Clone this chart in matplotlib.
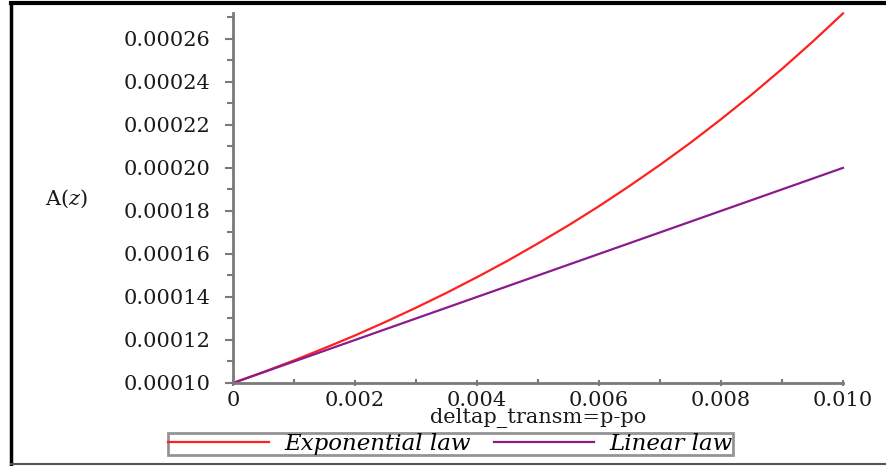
import matplotlib
matplotlib.use('Agg')
from matplotlib import pyplot as plt
from matplotlib.lines import Line2D
from matplotlib.ticker import MultipleLocator

# values
x = [0.0, 0.0005, 0.001, 0.0015, 0.002, 0.0025, 0.003, 0.0035, 0.004, 0.0045,
     0.005, 0.0055, 0.006, 0.0065, 0.007, 0.0075, 0.008, 0.0085, 0.009, 0.0095, 0.010]
exponential = [1.000, 1.051, 1.105, 1.162, 1.221, 1.284, 1.350, 1.419, 1.492, 1.568,
               1.649, 1.733, 1.822, 1.916, 2.014, 2.117, 2.226, 2.340, 2.460, 2.586, 2.718]
linear = [1.00, 1.05, 1.10, 1.15, 1.20, 1.25, 1.30, 1.35, 1.40, 1.45,
          1.50, 1.55, 1.60, 1.65, 1.70, 1.75, 1.80, 1.85, 1.90, 1.95, 2.00]
exponential = [v * 1e-4 for v in exponential]
linear = [v * 1e-4 for v in linear]

yticks = [0.00010, 0.00012, 0.00014, 0.00016, 0.00018, 0.00020, 0.00022, 0.00024, 0.00026]
xticks = [0.0, 0.002, 0.004, 0.006, 0.008, 0.010]
xticklabels = ['0', '0.002', '0.004', '0.006', '0.008', '0.010']

plt.rcParams['font.family'] = 'DejaVu Serif'
plt.rcParams['mathtext.fontset'] = 'dejavuserif'

W, H = 886, 466
fig = plt.figure(figsize=(W / 100, H / 100), dpi=100)
ax = fig.add_axes([233 / W, 83 / H, (843 - 233) / W, (453 - 83) / H])

ax.plot(x, exponential, color='#ff2020', lw=1.6, label='Exponential law', clip_on=False)
ax.plot(x, linear, color='#8a1c8c', lw=1.6, label='Linear law', clip_on=False)

ax.set_xlim(0, 0.010)
ax.set_ylim(0.00010, 0.000272)

axis_col = '#7a7a7a'
txt_col = '#1a1a1a'
for s in ['top', 'right']:
    ax.spines[s].set_visible(False)
for s in ['left', 'bottom']:
    ax.spines[s].set_color(axis_col)
    ax.spines[s].set_linewidth(2.0)

ax.set_yticks(yticks)
ax.set_yticklabels(['%.5f' % v for v in yticks])
ax.yaxis.set_minor_locator(MultipleLocator(0.00001))
ax.set_xticks(xticks)
ax.set_xticklabels(xticklabels)
ax.xaxis.set_minor_locator(MultipleLocator(0.001))

ax.tick_params(axis='y', which='major', direction='out', length=6, width=1.5,
               color=axis_col, labelsize=15, pad=10, labelcolor=txt_col)
ax.tick_params(axis='y', which='minor', direction='out', length=4, width=1.5, color=axis_col)
ax.tick_params(axis='x', which='major', direction='inout', length=5, width=1.5,
               color=axis_col, labelsize=15, pad=3, labelcolor=txt_col)
ax.tick_params(axis='x', which='minor', direction='in', length=3, width=1.5, color=axis_col)

ax.set_xlabel('deltap_transm=p-po', fontsize=15, color=txt_col, va='top')
ax.xaxis.set_label_coords(0.5, -(408 - 383) / 370)
fig.text(66 / W, 1 - 199 / H, r'A($z$)', fontsize=15, ha='center', va='center', color=txt_col)

leg = fig.legend(loc='center', bbox_to_anchor=(450.5 / W, 1 - 444 / H), ncol=2,
                 prop={'style': 'italic', 'size': 16.5}, frameon=True, fancybox=False,
                 handlelength=4.4, columnspacing=1.0, handletextpad=0.66,
                 borderpad=0.0, borderaxespad=0)
leg.get_frame().set_edgecolor('#7a7a7a')
leg.get_frame().set_linewidth(2.0)

# outer frame
fig.add_artist(Line2D([11 / W, 11 / W], [1 - 3 / H, 1 - 464 / H], color='black', lw=2.5,
                      transform=fig.transFigure))
fig.add_artist(Line2D([11 / W, 1], [1 - 3 / H, 1 - 3 / H], color='black', lw=3,
                      transform=fig.transFigure))
fig.add_artist(Line2D([11 / W, 1], [1 - 464 / H, 1 - 464 / H], color='#555555', lw=1.5,
                      transform=fig.transFigure))

fig.savefig('out.png', dpi=100)
